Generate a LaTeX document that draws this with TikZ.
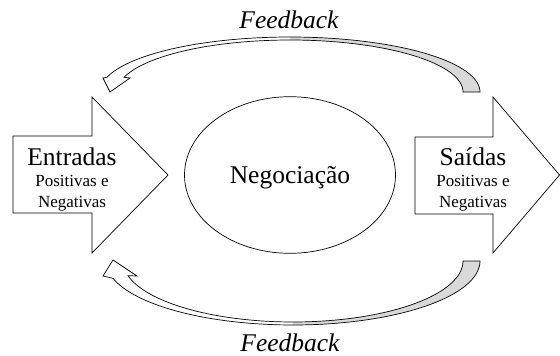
\documentclass[tikz,border=0pt]{standalone}
\usepackage{fontspec}
\setmainfont{Liberation Serif}
\usetikzlibrary{shapes.geometric}
\definecolor{bandgray}{RGB}{217,217,217}
\tikzset{
  outline/.style={draw=black, line width=0.7pt, line join=miter},
  bigtext/.style={anchor=base, inner sep=0pt, font=\fontsize{25.5}{30}\selectfont},
  smalltext/.style={anchor=base, inner sep=0pt, font=\fontsize{17}{20}\selectfont},
  fbtext/.style={anchor=base, inner sep=0pt, font=\fontsize{25.5}{30}\selectfont\itshape},
}
\begin{document}
\begin{tikzpicture}[x=1pt, y=-1pt]
\useasboundingbox (0,0) rectangle (560,356);

% block arrows: inputs and outputs
\path[outline, fill=white] (13,136) -- (92,136) -- (92,97) -- (168,175)
  -- (92,253) -- (92,213) -- (13,213) -- cycle;
\path[outline, fill=white] (415,137) -- (493,137) -- (493,97) -- (559.5,175)
  -- (493,253) -- (493,214) -- (415,214) -- cycle;

% central process
\node[ellipse, outline, inner sep=0pt, minimum width=211pt, minimum height=156.6pt] (neg) at (290,175) {};
\node[bigtext] (negtext) at (290,183) {Negociação};

% labels of the block arrows
\node[bigtext] (entradas) at (72,165) {Entradas};
\node[smalltext] (entpos) at (72,186) {Positivas e};
\node[smalltext] (entneg) at (72,207) {Negativas};
\node[bigtext] (saidas) at (473,165) {Saídas};
\node[smalltext] (saipos) at (473,186) {Positivas e};
\node[smalltext] (saineg) at (473,207) {Negativas};

% upper feedback band: shaded back face on the right, front face with head on the left
\fill[bandgray]
  plot[domain=0:90, samples=40, variable=\t] ({290+190*cos(\t)},{92-55*sin(\t)})
  -- plot[domain=90:0, samples=40, variable=\t] ({290+173*cos(\t)},{92-52*sin(\t)})
  -- cycle;
\fill[white]
  plot[domain=90:164.4, samples=40, variable=\t] ({290+190*cos(\t)},{92-55*sin(\t)})
  -- (103,78) -- (110,92) -- (130,78)
  -- plot[domain=163.6:90, samples=40, variable=\t] ({290+173*cos(\t)},{92-52*sin(\t)})
  -- cycle;
\draw[outline]
  plot[domain=0:164.4, samples=80, variable=\t] ({290+190*cos(\t)},{92-55*sin(\t)})
  -- (103,78) -- (110,92) -- (130,78)
  -- plot[domain=163.6:0, samples=80, variable=\t] ({290+173*cos(\t)},{92-52*sin(\t)})
  -- cycle;

% lower feedback band
\fill[bandgray]
  plot[domain=0:90, samples=40, variable=\t] ({293+187*cos(\t)},{261+64*sin(\t)})
  -- plot[domain=90:0, samples=40, variable=\t] ({293+170*cos(\t)},{261+61*sin(\t)})
  -- cycle;
\fill[white]
  plot[domain=90:164.3, samples=40, variable=\t] ({293+187*cos(\t)},{261+64*sin(\t)})
  -- (103,276) -- (113,260) -- (137,276)
  -- plot[domain=166.1:90, samples=40, variable=\t] ({293+170*cos(\t)},{261+61*sin(\t)})
  -- cycle;
\draw[outline]
  plot[domain=0:164.3, samples=80, variable=\t] ({293+187*cos(\t)},{261+64*sin(\t)})
  -- (103,276) -- (113,260) -- (137,276)
  -- plot[domain=166.1:0, samples=80, variable=\t] ({293+170*cos(\t)},{261+61*sin(\t)})
  -- cycle;

% feedback labels
\node[fbtext] (fbtop) at (289,28.5) {Feedback};
\node[fbtext] (fbbot) at (290,351.5) {Feedback};
\end{tikzpicture}
\end{document}
